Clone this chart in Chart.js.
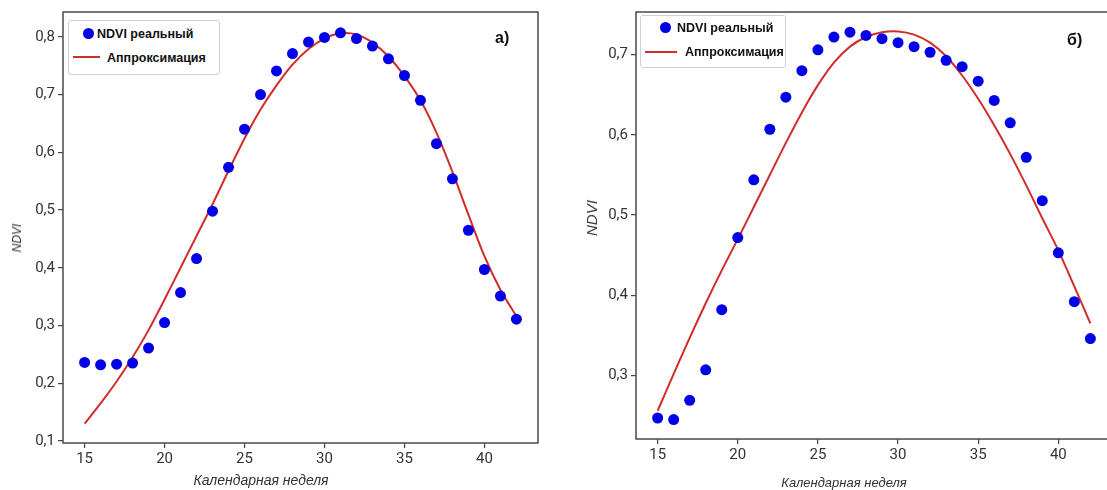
<!DOCTYPE html>
<html>
<head>
<meta charset="utf-8">
<script src="https://cdn.jsdelivr.net/npm/chart.js@4/dist/chart.umd.min.js"></script>
<style>
body{margin:0;background:#fff;overflow:hidden}
#wrap{position:relative;width:1107px;height:490px;overflow:hidden;background:#fff}
canvas{position:absolute;top:0}
.t{position:absolute;font-family:"Liberation Sans",Arial,sans-serif;color:#222;white-space:nowrap;line-height:16px}
.leg{position:absolute;border:1px solid #d0d0d0;border-radius:3px;background:#fff;box-sizing:border-box}
.dot{position:absolute;width:11px;height:11px;border-radius:50%;background:#0000e6}
.ln{position:absolute;height:2px;background:#d22b2b}
.lt{font-weight:bold;font-size:12.5px;color:#111}
.ax{font-style:italic;color:#333}
.rot{transform:translate(-50%,-50%) rotate(-90deg)}
</style>
</head>
<body>
<div id="wrap">
  <canvas id="chartA" width="560" height="490" style="left:0"></canvas>
  <canvas id="chartB" width="560" height="490" style="left:560px"></canvas>

  <div class="leg" style="left:68px;top:20px;width:152px;height:55px"></div>
  <div class="dot" style="left:83px;top:28px"></div>
  <div class="t lt" style="left:97px;top:26px">NDVI реальный</div>
  <div class="ln" style="left:73px;top:56px;width:27px"></div>
  <div class="t lt" style="left:107px;top:50px">Аппроксимация</div>

  <div class="leg" style="left:640px;top:15px;width:146px;height:53px"></div>
  <div class="dot" style="left:660px;top:22px"></div>
  <div class="t lt" style="left:677px;top:20px">NDVI реальный</div>
  <div class="ln" style="left:645px;top:51px;width:32px"></div>
  <div class="t lt" style="left:685px;top:44px">Аппроксимация</div>

  <div class="t" style="left:495px;top:29px;font-weight:bold;font-size:16px;line-height:18px;color:#111">а)</div>
  <div class="t" style="left:1067px;top:31px;font-weight:bold;font-size:16px;line-height:18px;color:#111">б)</div>

  <div class="t ax rot" style="left:17px;top:238px;font-size:12px">NDVI</div>
  <div class="t ax rot" style="left:592px;top:218px;font-size:15px">NDVI</div>
  <div class="t ax" style="left:261px;top:480px;font-size:14px;transform:translate(-50%,-50%)">Календарная неделя</div>
  <div class="t ax" style="left:844px;top:483px;font-size:13px;transform:translate(-50%,-50%)">Календарная неделя</div>
</div>
<script>
const weeks = [15,16,17,18,19,20,21,22,23,24,25,26,27,28,29,30,31,32,33,34,35,36,37,38,39,40,41,42]

// а) NDVI values and approximation
const ndviA = [0.236,0.232,0.233,0.235,0.261,0.305,0.357,0.416,0.498,0.574,0.640,0.700,0.741,0.771,0.791,0.799,0.807,0.797,0.784,0.762,0.733,0.690,0.615,0.554,0.465,0.397,0.351,0.311]
const fitA  = [0.130,0.165,0.203,0.245,0.292,0.345,0.400,0.455,0.510,0.568,0.624,0.674,0.716,0.752,0.779,0.797,0.806,0.804,0.790,0.766,0.732,0.690,0.634,0.566,0.492,0.420,0.362,0.316]

// б) NDVI values and approximation
const ndviB = [0.247,0.245,0.269,0.307,0.382,0.472,0.544,0.607,0.647,0.680,0.706,0.722,0.728,0.724,0.720,0.715,0.710,0.703,0.693,0.685,0.667,0.643,0.615,0.572,0.518,0.453,0.392,0.346]
const fitB  = [0.256,0.302,0.347,0.390,0.431,0.470,0.510,0.550,0.590,0.628,0.662,0.690,0.710,0.722,0.728,0.729,0.725,0.715,0.698,0.674,0.645,0.612,0.576,0.537,0.496,0.456,0.411,0.365]

const xTicks = [15,20,25,30,35,40]
const yTicksA = [0.1,0.2,0.3,0.4,0.5,0.6,0.7,0.8]
const yTicksB = [0.3,0.4,0.5,0.6,0.7]

const frame = {
    id: 'frame',
    afterDraw(chart){
        const a = chart.chartArea, ctx = chart.ctx
        ctx.save()
        ctx.strokeStyle = '#4a4a4a'
        ctx.lineWidth = 1.5
        ctx.strokeRect(a.left, a.top, a.right - a.left, a.bottom - a.top)
        ctx.restore()
    }
}

function pts(ys){
    return weeks.map((w, i) => ({x: w, y: ys[i]}))
}

function makeChart(id, real, fit, yTicks, xr, yr, pad, yW, xH){
    const tickFont = {family: 'Roboto, "Open Sans", sans-serif', size: 15}
    new Chart(document.getElementById(id).getContext('2d'), {
        type: 'scatter',
        data: {
            datasets: [
                {label: 'NDVI реальный', data: pts(real), showLine: false,
                 pointRadius: 5.5, pointBackgroundColor: '#0000e6', pointBorderWidth: 0, order: 1},
                {label: 'Аппроксимация', data: pts(fit), showLine: true, tension: 0.3,
                 borderColor: '#d22b2b', borderWidth: 2, pointRadius: 0, order: 2}
            ]
        },
        options: {
            responsive: false,
            animation: false,
            layout: {padding: pad},
            plugins: {legend: {display: false}, tooltip: {enabled: false}},
            scales: {
                x: {
                    type: 'linear', min: xr[0], max: xr[1],
                    afterBuildTicks: s => { s.ticks = xTicks.map(v => ({value: v})) },
                    afterFit: s => { s.height = xH },
                    ticks: {font: tickFont, color: '#333', padding: 2, callback: v => String(v)},
                    grid: {drawOnChartArea: false, drawTicks: true, tickLength: 5, color: '#444', lineWidth: 1.2},
                    border: {display: false}
                },
                y: {
                    type: 'linear', min: yr[0], max: yr[1],
                    afterBuildTicks: s => { s.ticks = yTicks.map(v => ({value: v})) },
                    afterFit: s => { s.width = yW },
                    ticks: {font: tickFont, color: '#333', padding: 3, callback: v => v.toFixed(1).replace('.', ',')},
                    grid: {drawOnChartArea: false, drawTicks: true, tickLength: 5, color: '#444', lineWidth: 1.2},
                    border: {display: false}
                }
            }
        },
        plugins: [frame]
    })
}

makeChart('chartA', ndviA, fitA, yTicksA, [13.65, 43.35], [0.0965, 0.843], {top: 12, right: 22, left: 0, bottom: 0}, 63, 47)
makeChart('chartB', ndviB, fitB, yTicksB, [13.65, 43.35], [0.2208, 0.7532], {top: 6, right: 8, left: 0, bottom: 0}, 76, 51)
</script>
</body>
</html>
